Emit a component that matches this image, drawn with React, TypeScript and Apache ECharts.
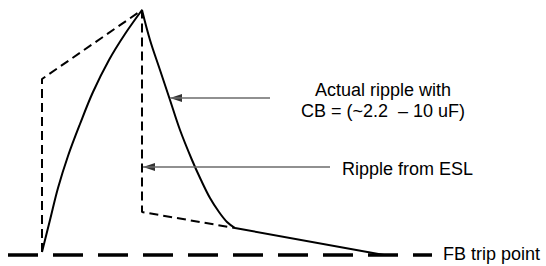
import React, { useEffect, useRef } from "react";
import * as echarts from "echarts";

// time axis (t) and voltage (v, FB trip point = 0), arbitrary units
const riseT = [42, 50, 58, 68, 80, 93, 109, 125, 142];
const riseV = [3, 35, 67, 99, 131, 163, 195, 221, 245];
const fallT = [142, 150, 160, 170, 180, 192, 201, 210, 219, 227, 235];
const fallV = [245, 215, 185, 155, 125, 95, 75, 57, 43, 33, 27];
const tailT = [235, 384];
const tailV = [27, 0];
const eslT = [42, 42, 142, 142, 235];
const eslV = [3, 176, 245, 43, 27];
const fbT = [8, 432];
const fbV = [0, 0];
const arrow1T = [270, 170];
const arrow1V = [157, 157];
const arrow2T = [330, 143];
const arrow2V = [88, 88];

const zip = (a: number[], b: number[]) => a.map((x, i) => [x, b[i]]);

export default function App() {
  const ref = useRef<HTMLDivElement>(null);
  useEffect(() => {
    const chart = echarts.init(ref.current!, null, { renderer: "svg" });
    const headLen = 12;
    const heads = [
      [arrow1T[1] + headLen / 2, arrow1V[1]],
      [arrow2T[1] + headLen / 2, arrow2V[1]],
    ];
    const font = "Liberation Sans, Arial, sans-serif";
    chart.setOption({
      animation: false,
      grid: { left: 0, right: 0, top: 0, bottom: 0 },
      xAxis: { type: "value", min: 0, max: 546, show: false },
      yAxis: { type: "value", min: -11, max: 255, show: false },
      series: [
        {
          type: "line",
          data: zip(fbT, fbV),
          symbol: "none",
          lineStyle: { color: "#000", width: 3.5, type: [30, 15] },
        },
        {
          type: "line",
          data: zip(eslT, eslV),
          symbol: "none",
          lineStyle: { color: "#000", width: 2, type: [9, 5] },
        },
        {
          type: "line",
          data: zip(riseT, riseV),
          symbol: "none",
          smooth: 0.35,
          lineStyle: { color: "#000", width: 2 },
        },
        {
          type: "line",
          data: zip(fallT, fallV),
          symbol: "none",
          smooth: 0.35,
          lineStyle: { color: "#000", width: 2 },
        },
        {
          type: "line",
          data: zip(tailT, tailV),
          symbol: "none",
          lineStyle: { color: "#000", width: 2 },
        },
        {
          type: "line",
          data: zip(arrow1T, arrow1V),
          symbol: "none",
          lineStyle: { color: "#6b6b6b", width: 1.5 },
        },
        {
          type: "line",
          data: zip(arrow2T, arrow2V),
          symbol: "none",
          lineStyle: { color: "#6b6b6b", width: 1.5 },
        },
        {
          type: "scatter",
          data: heads,
          symbol: "triangle",
          symbolSize: [8, headLen],
          symbolRotate: 90,
          itemStyle: { color: "#000" },
        },
      ],
      graphic: [
        {
          type: "text",
          x: 383,
          y: 90,
          style: {
            text: "Actual ripple with",
            font: `18px ${font}`,
            fill: "#000",
            align: "center",
            verticalAlign: "middle",
          },
        },
        {
          type: "text",
          x: 383,
          y: 111,
          style: {
            text: "CB = (~2.2  \u2013 10 uF)",
            font: `18px ${font}`,
            fill: "#000",
            align: "center",
            verticalAlign: "middle",
          },
        },
        {
          type: "text",
          x: 342,
          y: 169,
          style: {
            text: "Ripple from ESL",
            font: `18px ${font}`,
            fill: "#000",
            align: "left",
            verticalAlign: "middle",
          },
        },
        {
          type: "text",
          x: 443,
          y: 254,
          style: {
            text: "FB trip point",
            font: `18px ${font}`,
            fill: "#000",
            align: "left",
            verticalAlign: "middle",
          },
        },
      ],
    });
    return () => chart.dispose();
  }, []);
  return (
    <div
      ref={ref}
      style={{ position: "fixed", left: 0, top: 0, width: 546, height: 266, background: "#fff" }}
    />
  );
}
